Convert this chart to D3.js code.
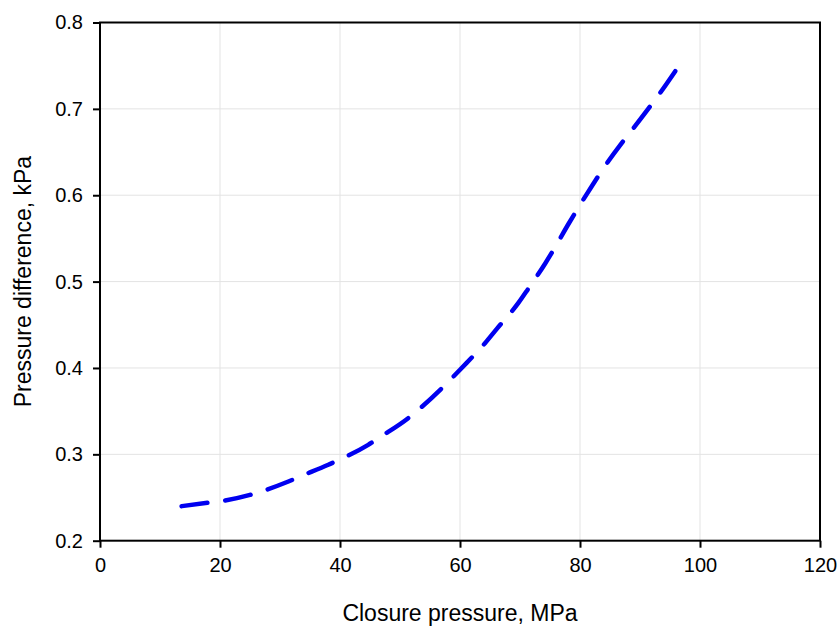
<!DOCTYPE html>
<html>
<head>
<meta charset="utf-8">
<script src="https://cdn.jsdelivr.net/npm/d3@7"></script>
<style>
  html, body { margin: 0; padding: 0; background: #fff; }
  svg { display: block; font-family: "Liberation Sans", Arial, sans-serif; }
</style>
</head>
<body>
<svg id="chart" width="838" height="626"></svg>
<script>
// Closure pressure (MPa) vs. pressure difference (kPa)
const closurePressure = [13.6, 18.3, 20.3, 25, 26.9, 31.4, 33.6, 38.05, 40.3, 44.7, 46.7, 51.4, 53.3, 58.05, 60, 64.2, 66.1, 69.7, 71.4, 74.2, 75.6, 78.1, 79.4, 82.2, 83.6, 86.7, 88.05, 91.7, 93.3, 96.4];
const pressureDiff    = [0.240, 0.2443, 0.246, 0.253, 0.257, 0.2685, 0.275, 0.288, 0.295, 0.311, 0.320, 0.342, 0.353, 0.384, 0.398, 0.429, 0.445, 0.475, 0.492, 0.521, 0.537, 0.567, 0.582, 0.613, 0.628, 0.658, 0.670, 0.703, 0.718, 0.749];

const xTicks = [0, 20, 40, 60, 80, 100, 120];
const yTicks = [0.2, 0.3, 0.4, 0.5, 0.6, 0.7, 0.8];
const xTitle = "Closure pressure, MPa";
const yTitle = "Pressure difference, kPa";

const svg = d3.select("#chart");
const plotL = 100, plotR = 820, plotT = 22.5, plotB = 540.7;

const x = d3.scaleLinear().domain([0, 120]).range([plotL, plotR]);
const y = d3.scaleLinear().domain([0.2, 0.8]).range([plotB, plotT]);

// gridlines
const grid = svg.append("g").attr("stroke", "#e3e3e3").attr("stroke-width", 1);
grid.selectAll("line.gx").data(xTicks.slice(1, -1)).join("line")
  .attr("x1", d => x(d)).attr("x2", d => x(d))
  .attr("y1", plotT).attr("y2", plotB);
grid.selectAll("line.gy").data(yTicks.slice(1, -1)).join("line")
  .attr("x1", plotL).attr("x2", plotR)
  .attr("y1", d => y(d)).attr("y2", d => y(d));

// curve
const pts = closurePressure.map((v, i) => [v, pressureDiff[i]]);
const line = d3.line().x(d => x(d[0])).y(d => y(d[1])).curve(d3.curveMonotoneX);
svg.append("path")
  .datum(pts)
  .attr("d", line)
  .attr("fill", "none")
  .attr("stroke", "#0000f0")
  .attr("stroke-width", 4.5)
  .attr("stroke-linecap", "round")
  .attr("stroke-dasharray", "26,18");

// axes
const xAxis = d3.axisBottom(x).tickValues(xTicks).tickSize(7).tickPadding(10).tickFormat(d3.format("d"));
const yAxis = d3.axisLeft(y).tickValues(yTicks).tickSize(7).tickPadding(10).tickFormat(d3.format(".1f"));

const gx = svg.append("g").attr("transform", `translate(0,${plotB})`).call(xAxis);
const gy = svg.append("g").attr("transform", `translate(${plotL},0)`).call(yAxis);
[gx, gy].forEach(g => {
  g.select(".domain").remove();
  g.selectAll(".tick line").attr("stroke", "#000").attr("stroke-width", 2);
  g.selectAll(".tick text").attr("fill", "#000").attr("font-size", 20)
    .attr("font-family", "Liberation Sans, Arial, sans-serif");
});

// frame
svg.append("rect")
  .attr("x", plotL).attr("y", plotT)
  .attr("width", plotR - plotL).attr("height", plotB - plotT)
  .attr("fill", "none").attr("stroke", "#000").attr("stroke-width", 2);

// titles
svg.append("text")
  .attr("x", (plotL + plotR) / 2).attr("y", 621)
  .attr("text-anchor", "middle").attr("font-size", 23).attr("fill", "#000")
  .text(xTitle);
svg.append("text")
  .attr("transform", `translate(31,${(plotT + plotB) / 2}) rotate(-90)`)
  .attr("text-anchor", "middle").attr("font-size", 23).attr("fill", "#000")
  .text(yTitle);
</script>
</body>
</html>
